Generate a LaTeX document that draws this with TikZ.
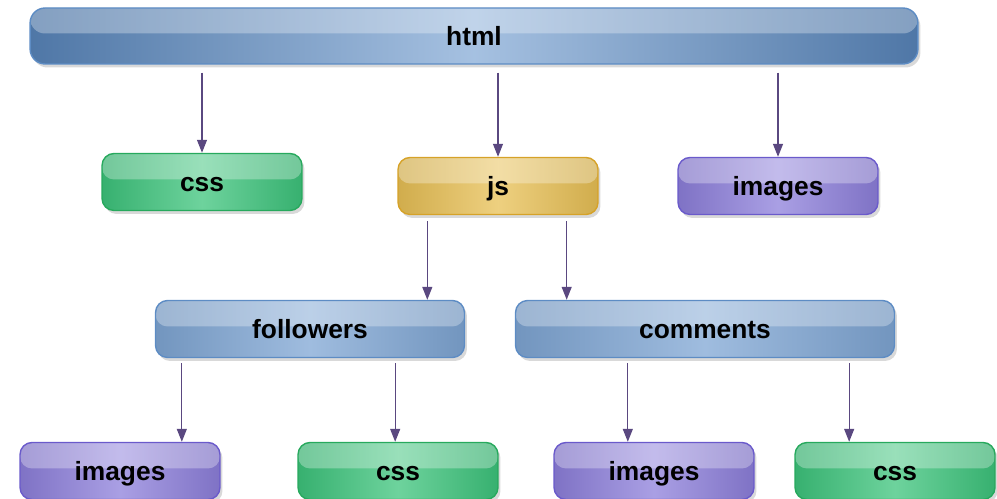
\documentclass[tikz,border=0pt]{standalone}
\usepackage{fontspec}
\setmainfont{Liberation Sans}
\usetikzlibrary{arrows.meta,shadows}

\definecolor{blueFill}{HTML}{7FA6D4}
\definecolor{blueLine}{HTML}{5D8CC4}
\definecolor{greenFill}{HTML}{3DC47C}
\definecolor{greenLine}{HTML}{27A95D}
\definecolor{goldFill}{HTML}{E8C055}
\definecolor{goldLine}{HTML}{D6A228}
\definecolor{purpleFill}{HTML}{8D7FDB}
\definecolor{purpleLine}{HTML}{6A5ACB}
\definecolor{linkColor}{HTML}{5A4880}

\tikzset{
  folder/.style={draw=#1Line, line width=0.8pt, rounded corners=0.24cm,
    left color=#1Fill!90!black, right color=#1Fill!90!black, middle color=#1Fill!75!white,
    minimum width=4cm, minimum height=1.14cm, text height=11pt, text depth=0pt,
    font=\fontsize{15}{18}\selectfont\bfseries,
    drop shadow={shadow xshift=0.05cm, shadow yshift=-0.07cm, opacity=0.3},
    path picture={\fill[white,opacity=0.3] (path picture bounding box.north west)
      rectangle ([yshift=0.05cm]path picture bounding box.east);}},
  link/.style={draw=linkColor, line width=0.7pt, -{Triangle[length=0.26cm,width=0.2cm]}}
}

\begin{document}
\begin{tikzpicture}[x=0.02cm, y=-0.02cm]
        \useasboundingbox (0,0) rectangle (997,499);

        % Define the folders
        \node[folder=blue, minimum width=17.76cm, minimum height=1.12cm, rounded corners=0.3cm,
              left color=blueLine!85!black, right color=blueLine!85!black, middle color=blueFill!70!white] (html) at (474,36) {html};

        \node[folder=green] (css) at (202,182) {css};
        \node[folder=gold] (js) at (498,186) {js};
        \node[folder=purple] (images) at (778,186) {images};

        \node[folder=blue, minimum width=6.18cm] (followers) at (310,329) {followers};
        \node[folder=blue, minimum width=7.58cm] (comments) at (705,329) {comments};

        \node[folder=purple] (fimages) at (120,471) {images};
        \node[folder=green] (fcss) at (398,471) {css};
        \node[folder=purple] (cimages) at (654,471) {images};
        \node[folder=green] (ccss) at (895,471) {css};

        % Define the links (directed)
        \draw[link] ([yshift=-0.16cm]html.south -| css.north) -- (css.north);
        \draw[link] ([yshift=-0.16cm]html.south -| js.north) -- (js.north);
        \draw[link] ([yshift=-0.16cm]html.south -| images.north) -- (images.north);

        \draw[link] ([xshift=0.6cm, yshift=-0.12cm]js.south west) -- ([xshift=0.6cm]js.south west |- followers.north);
        \draw[link] ([xshift=-0.64cm, yshift=-0.12cm]js.south east) -- ([xshift=-0.64cm]js.south east |- comments.north);

        \draw[link] ([xshift=0.54cm, yshift=-0.1cm]followers.south west) -- ([xshift=0.54cm]followers.south west |- fimages.north);
        \draw[link] ([xshift=-1.4cm, yshift=-0.1cm]followers.south east) -- ([xshift=-1.4cm]followers.south east |- fcss.north);
        \draw[link] ([xshift=2.26cm, yshift=-0.1cm]comments.south west) -- ([xshift=2.26cm]comments.south west |- cimages.north);
        \draw[link] ([xshift=-0.92cm, yshift=-0.1cm]comments.south east) -- ([xshift=-0.92cm]comments.south east |- ccss.north);

    \end{tikzpicture}
\end{document}
